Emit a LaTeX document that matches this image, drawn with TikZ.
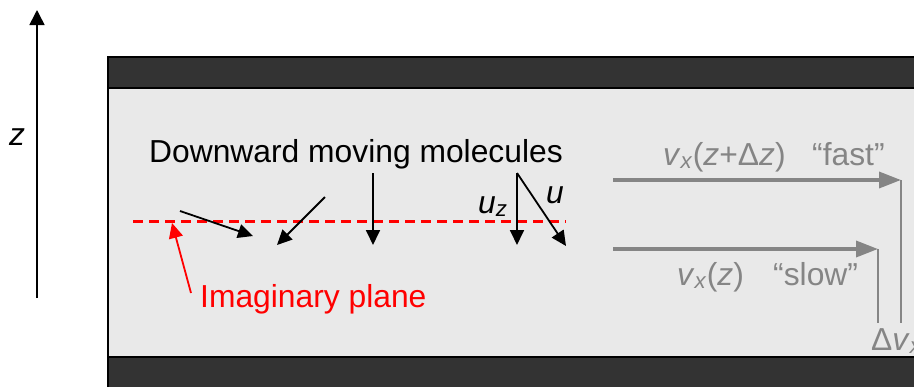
\documentclass[tikz,border=0pt]{standalone}
\usepackage{fontspec}
\setmainfont{Liberation Sans}
\usepackage{xcolor}
\usetikzlibrary{arrows.meta, positioning}
\definecolor{wallgray}{HTML}{333333}
\definecolor{fluidgray}{HTML}{E9E9E9}
\definecolor{velgray}{HTML}{858585}
\tikzstyle{fluid} = [fill=fluidgray, draw=black, line width=1.5pt]
\tikzstyle{wall} = [fill=wallgray, draw=black, line width=1.5pt]
\tikzstyle{txt} = [font=\fontsize{31.8}{37}\selectfont, inner sep=0pt, anchor=base west]
\tikzstyle{axis} = [line width=1.6pt, -{Triangle[length=15pt,width=15pt]}]
\tikzstyle{molarrow} = [line width=1.8pt, -{Triangle[length=15pt,width=14pt]}]
\tikzstyle{plane} = [red, line width=3pt, dash pattern=on 10pt off 6pt]
\tikzstyle{planearrow} = [red, line width=1.8pt, -{Triangle[length=15pt,width=14pt]}]
\tikzstyle{velarrow} = [velgray, line width=3.5pt, -{Triangle[length=22pt,width=16pt]}]
\tikzstyle{velline} = [velgray, line width=2pt]

\begin{document}
\begin{tikzpicture}[x=1pt, y=-1pt]
        \useasboundingbox (0,0) rectangle (914,386);
        \clip (0,0) rectangle (914,386);

        % Paredes y fluido
        \path [fluid] (108,57) rectangle (940,400);
        \path [wall] (108,57) rectangle (940,88);
        \path [wall] (108,357) rectangle (940,400);

        % Eje z
        \coordinate (zbot) at (37,298);
        \coordinate (ztop) at (37,10);
        \draw [axis] (zbot) -- (ztop);
        \node [txt] (zlab) at (9,145) {\textit{z}};

        % Plano imaginario
        \coordinate (pleft) at (133,221);
        \coordinate (pright) at (566,221);
        \draw [plane] (pleft) -- (pright);
        \node [txt, red] (planelab) at (200,307) {Imaginary plane};
        \coordinate (ptail) at (191,293);
        \coordinate (phit) at (172,223);
        \draw [planearrow] (ptail) -- (phit);

        % Moleculas hacia abajo
        \node [txt] (down) at (149,162) {Downward moving molecules};
        \coordinate (m1a) at (180,211);
        \coordinate (m1b) at (253,236);
        \coordinate (m2a) at (325,197);
        \coordinate (m2b) at (277,245);
        \coordinate (m3a) at (373,173);
        \coordinate (m3b) at (373,245);
        \coordinate (m4a) at (517,173);
        \coordinate (m4b) at (517,245);
        \coordinate (m5b) at (566,246);
        \draw [molarrow] (m1a) -- (m1b);
        \draw [molarrow] (m2a) -- (m2b);
        \draw [molarrow] (m3a) -- (m3b);
        \draw [molarrow] (m4a) -- (m4b);
        \draw [molarrow] (m4a) -- (m5b);
        \node [txt] (uzlab) at (478,213) {\textit{u}\textsubscript{\textit{z}}};
        \node [txt] (ulab) at (546,203) {\textit{u}};

        % Perfil de velocidad
        \coordinate (fa) at (613,180);
        \coordinate (fb) at (901,180);
        \coordinate (sa) at (613,249);
        \coordinate (sb) at (878,249);
        \coordinate (fbot) at (901,323);
        \coordinate (sbot) at (878,323);
        \draw [velarrow] (fa) -- (fb);
        \draw [velarrow] (sa) -- (sb);
        \draw [velline] (fb) -- (fbot);
        \draw [velline] (sb) -- (sbot);
        \node [txt, velgray] (vfast) at (663,165) {\textit{v}\textsubscript{\textit{x}}(\textit{z}+Δ\textit{z})};
        \node [txt, velgray] (fastlab) at (812,165) {“fast”};
        \node [txt, velgray] (vslow) at (677,285) {\textit{v}\textsubscript{\textit{x}}(\textit{z})};
        \node [txt, velgray] (slowlab) at (773,285) {“slow”};
        \node [txt, velgray] (dv) at (871,350) {Δ\textit{v}\textsubscript{\textit{x}}};
    \end{tikzpicture}
\end{document}
